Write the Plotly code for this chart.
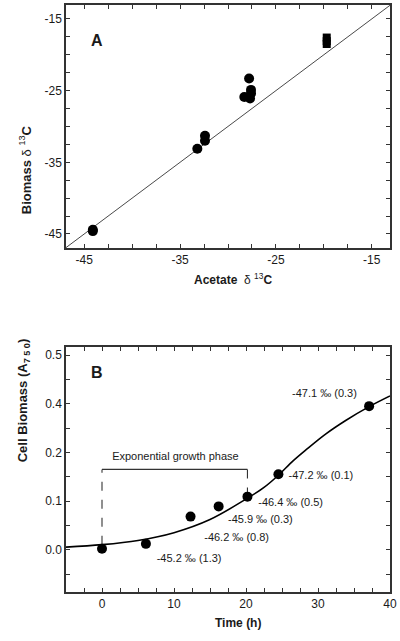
import plotly.graph_objects as go

# ---------------- Panel A data ----------------
acetate_circles = [-44.1, -44.1, -33.2, -32.4, -32.4, -28.3, -27.8, -27.6, -27.6, -27.7]
biomass_circles = [-44.4, -44.6, -33.1, -31.3, -32.0, -25.9, -23.3, -24.9, -25.4, -26.1]
acetate_squares = [-19.7, -19.7, -19.7]
biomass_squares = [-17.6, -18.1, -18.5]
identity_line = [-47, -13]

a_tickvals = [-45 + 2.5 * i for i in range(13)]
a_ticktext = ["-45", "", "", "", "-35", "", "", "", "-25", "", "", "", "-15"]

# ---------------- Panel B data ----------------
time_h = [0.0, 6.1, 12.3, 16.2, 20.2, 24.5, 37.1]
cell_biomass = [0.002, 0.012, 0.068, 0.089, 0.109, 0.155, 0.295]
fit_time = [-5, 0, 5, 10, 15, 20, 22.5, 24.5, 26.5, 28.4, 31.1, 33.9, 37.1, 40]
fit_biomass = [0.0053, 0.0103, 0.019, 0.035, 0.062, 0.104, 0.128, 0.153, 0.182, 0.206,
               0.238, 0.266, 0.294, 0.316]
label_texts = ["-45.2 ‰ (1.3)", "-46.2 ‰ (0.8)", "-45.9 ‰ (0.3)", "-46.4 ‰ (0.5)",
               "-47.2 ‰ (0.1)", "-47.1 ‰ (0.3)"]
label_x = [12.1, 18.7, 22.0, 26.2, 30.4, 30.9]
label_y = [-0.0205, 0.0226, 0.060, 0.0956, 0.150, 0.320]
bracket_x = [0, 0, 20.2, 20.2]
bracket_y = [0.01, 0.165, 0.165, 0.115]

b_xtickvals = [-5 + 2.5 * i for i in range(19)]
b_xticktext = ["" if (v % 10) else str(int(v)) for v in b_xtickvals]
b_xticktext[0] = ""
b_ytickvals = [round(-0.05 + 0.05 * i, 2) for i in range(10)]
b_yticktext = ["", "0.0", "", "0.1", "", "0.2", "", "0.4", "", "0.5"]

FONT = "Liberation Sans, Arial, sans-serif"
INK = "#1a1a1a"

fig = go.Figure()

# Panel A
fig.add_trace(go.Scatter(x=identity_line, y=identity_line, mode="lines",
                         line=dict(color=INK, width=0.8), xaxis="x", yaxis="y"))
fig.add_trace(go.Scatter(x=acetate_circles, y=biomass_circles, mode="markers",
                         marker=dict(symbol="circle", size=10, color="black"),
                         xaxis="x", yaxis="y"))
fig.add_trace(go.Scatter(x=acetate_squares, y=biomass_squares, mode="markers",
                         marker=dict(symbol="square", size=8, color="black"),
                         xaxis="x", yaxis="y"))

# Panel B
fig.add_trace(go.Scatter(x=fit_time, y=fit_biomass, mode="lines",
                         line=dict(color="black", width=1.6, shape="spline", smoothing=1.0),
                         xaxis="x2", yaxis="y2"))
fig.add_trace(go.Scatter(x=bracket_x[:2], y=bracket_y[:2], mode="lines",
                         line=dict(color="#333", width=1.1, dash="dash"),
                         xaxis="x2", yaxis="y2"))
fig.add_trace(go.Scatter(x=bracket_x[1:3], y=bracket_y[1:3], mode="lines",
                         line=dict(color="#333", width=1.1),
                         xaxis="x2", yaxis="y2"))
fig.add_trace(go.Scatter(x=bracket_x[2:], y=bracket_y[2:], mode="lines",
                         line=dict(color="#333", width=1.1, dash="dash"),
                         xaxis="x2", yaxis="y2"))
fig.add_trace(go.Scatter(x=time_h, y=cell_biomass, mode="markers",
                         marker=dict(symbol="circle", size=10, color="black"),
                         xaxis="x2", yaxis="y2"))
fig.add_trace(go.Scatter(x=label_x, y=label_y, mode="text", text=label_texts,
                         textfont=dict(size=11, color=INK, family=FONT),
                         xaxis="x2", yaxis="y2"))
fig.add_trace(go.Scatter(x=[10.2], y=[0.189], mode="text", text=["Exponential growth phase"],
                         textfont=dict(size=11, color=INK, family=FONT),
                         xaxis="x2", yaxis="y2"))

axis_common = dict(showgrid=False, zeroline=False, showline=True, mirror="ticks",
                   linecolor="#333", linewidth=1.5, ticks="inside", ticklen=4,
                   tickwidth=1, tickcolor="#333",
                   tickfont=dict(size=12, color=INK, family=FONT))

fig.update_layout(
    width=400, height=641,
    margin=dict(l=66, r=10, t=3, b=49),
    paper_bgcolor="white", plot_bgcolor="white",
    showlegend=False,
    font=dict(family=FONT, color=INK),
    xaxis=dict(domain=[0, 1], range=[-46.9, -13.1], anchor="y",
               tickmode="array", tickvals=a_tickvals, ticktext=a_ticktext, **axis_common),
    yaxis=dict(domain=[0.5862, 1], range=[-46.94, -13.06], anchor="x",
               tickmode="array", tickvals=a_tickvals, ticktext=a_ticktext, **axis_common),
    xaxis2=dict(domain=[0, 1], range=[-5, 40], anchor="y2",
                tickmode="array", tickvals=b_xtickvals, ticktext=b_xticktext, **axis_common),
    yaxis2=dict(domain=[0, 0.4177], range=[-0.087, 0.417], anchor="x2",
                tickmode="array", tickvals=b_ytickvals, ticktext=b_yticktext, **axis_common),
)

bold = dict(family=FONT, size=12, color=INK)
vbold = dict(family=FONT, size=13, color=INK)
fig.add_annotation(x=0.515, y=0.5336, xref="paper", yref="paper", showarrow=False,
                   text="<b>Acetate</b>  δ <sup>13</sup><b>C</b>", font=bold)
fig.add_annotation(x=-0.157, y=0.798, xref="paper", yref="paper", showarrow=False,
                   text="<b>Biomass</b> δ <sup>13</sup><b>C</b>", textangle=-90, font=vbold)
fig.add_annotation(x=0.531, y=-0.068, xref="paper", yref="paper", showarrow=False,
                   text="<b>Time (h)</b>", font=bold)
fig.add_annotation(x=-0.163, y=0.217, xref="paper", yref="paper", showarrow=False,
                   text="<b>Cell Biomass (A<sub>7 5 0</sub>)</b>", textangle=-90, font=vbold)
fig.add_annotation(x=0.072, y=0.957, xref="paper", yref="paper", showarrow=False,
                   text="<b>A</b>", font=dict(family=FONT, size=16, color=INK))
fig.add_annotation(x=0.072, y=0.374, xref="paper", yref="paper", showarrow=False,
                   text="<b>B</b>", font=dict(family=FONT, size=16, color=INK))

fig.write_html("out.html", config={"displayModeBar": False},
               post_script="document.body.style.margin='0';")
